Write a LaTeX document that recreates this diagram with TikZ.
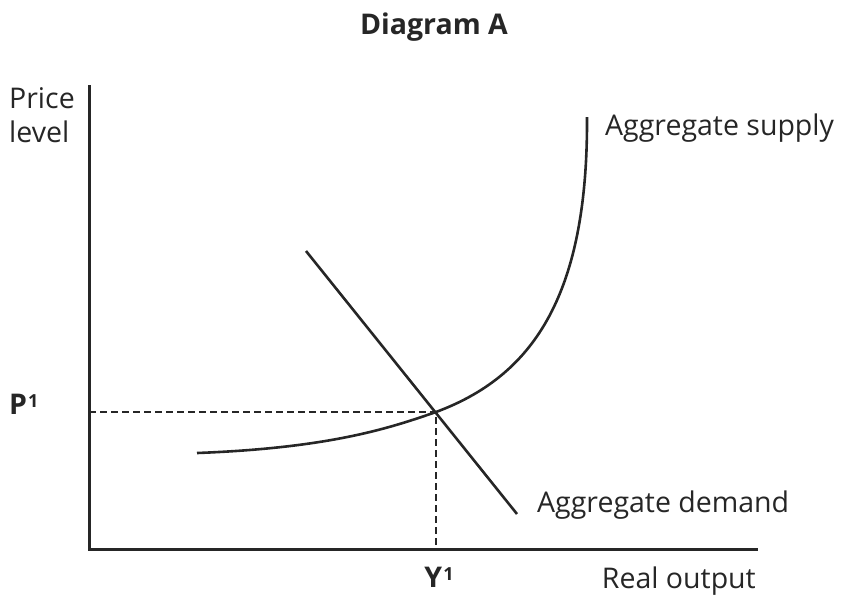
\documentclass[tikz,border=0pt]{standalone}
\usepackage{fontspec}
\setmainfont{Open Sans}
\newcommand{\supone}{\kern1pt\raisebox{7pt}{\fontsize{18}{20}\selectfont 1}}
\begin{document}
\begin{tikzpicture}[x=1pt,y=-1pt,
  axis/.style={line width=3pt,black!85},
  curve/.style={line width=2.6pt,black!85},
  guide/.style={line width=2.2pt,black!85,dash pattern=on 6.5pt off 4.5pt},
  lbl/.style={font=\fontsize{28.5}{34}\selectfont,text=black!85,inner sep=0pt},
  blbl/.style={font=\fontsize{28.5}{34}\selectfont\bfseries,text=black!85,inner sep=0pt}]
\useasboundingbox (0,0) rectangle (846,595);
\node[blbl,anchor=base] (title) at (434,34) {Diagram A};
\node[lbl,anchor=base west] (ylab1) at (9,108) {Price};
\node[lbl,anchor=base west] (ylab2) at (9,142) {level};
\coordinate (top) at (89,85);
\coordinate (origin) at (89,549);
\coordinate (xend) at (758,549);
\draw[axis] (top) -- (origin) -- (xend);
\coordinate (eq) at (436,412);
\coordinate (py) at (89,412);
\coordinate (yx) at (436,549);
\draw[guide] (py) -- (eq) -- (yx);
\coordinate (ad1) at (306,251);
\coordinate (ad2) at (517,514);
\draw[curve] (ad1) -- (ad2);
\coordinate (as1) at (197,453);
\coordinate (as2) at (587,117);
\draw[curve] (as1) .. controls (330,448) and (390,428) .. (eq) .. controls (530,377) and (588,300) .. (as2);
\node[lbl,anchor=base west] (asl) at (605,135) {Aggregate supply};
\node[lbl,anchor=base west] (adl) at (537,512) {Aggregate demand};
\node[lbl,anchor=base east] (xl) at (756,588) {Real output};
\node[blbl,anchor=base west] (p1) at (9,414) {P\supone};
\node[blbl,anchor=base] (y1) at (439,587) {Y\supone};
\end{tikzpicture}
\end{document}
